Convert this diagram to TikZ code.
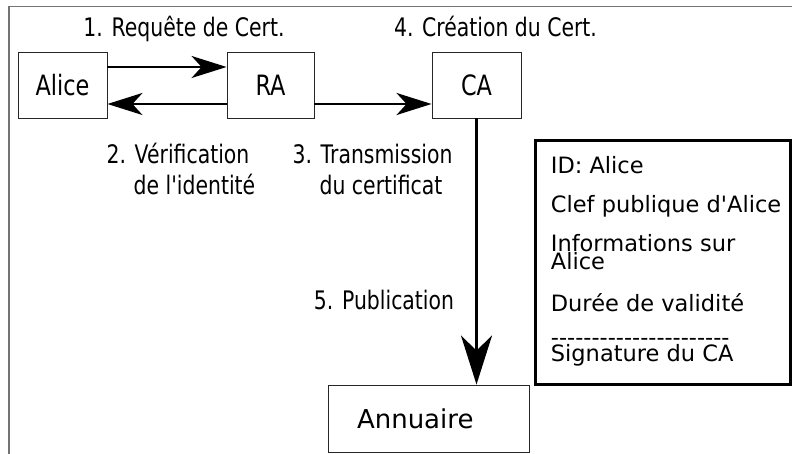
\documentclass[tikz,border=0pt]{standalone}
\usepackage{fontspec}
\usetikzlibrary{arrows.meta}
\newfontfamily\condfont[FakeStretch=0.8]{DejaVu Sans}
\newfontfamily\plainfont{DejaVu Sans}
\begin{document}
\begin{tikzpicture}[x=1bp,y=-1bp,
  entity/.style={draw=black!85, line width=0.9bp, minimum width=89bp, minimum height=66bp,
     inner sep=0pt, font=\condfont\fontsize{28bp}{32bp}\selectfont},
  steplabel/.style={anchor=base, inner sep=0pt, font=\condfont\fontsize{25.5bp}{30bp}\selectfont},
  certline/.style={anchor=base west, inner sep=0pt, font=\plainfont\fontsize{22.5bp}{26bp}\selectfont},
  harrow/.style={line width=2.5bp, -{Stealth[length=35bp, width=22bp, inset=10bp]}},
  varrow/.style={line width=2.7bp, -{Stealth[length=49bp, width=31bp, inset=15bp]}},
  frameline/.style={draw=black!55, line width=1.6bp}
]
\useasboundingbox (0,0) rectangle (792,454);
% outer frame (partially visible)
\draw[frameline] (792,6.7) -- (9,6.7) -- (9,454);

% entities
\node[entity] (alice) at (62.5,85) {Alice};
\node[entity, minimum width=87bp] (ra) at (270.5,85) {RA};
\node[entity] (ca) at (476.5,85) {CA};
\node[entity, minimum width=201bp, minimum height=67bp, text width=143bp, align=left,
      font=\plainfont\fontsize{26bp}{30bp}\selectfont] (annuaire) at (428.5,418.5) {Annuaire};

% certificate box
\node[draw=black, line width=3bp, minimum width=254.8bp, minimum height=243.6bp, inner sep=0pt]
   (cert) at (663.1,262.5) {};

% arrows
\draw[harrow] (alice.east |- 0,67) -- (ra.west |- 0,67);
\draw[harrow] (ra.west |- 0,104) -- (alice.east |- 0,104);
\draw[harrow] (ra.east |- 0,104) -- (ca.west |- 0,104);
\draw[varrow] (ca.south) -- (annuaire.north -| ca.south);

% step labels
\node[steplabel] (l1) at (184,37) {1. Requête de Cert.};
\node[steplabel] (l4) at (495.5,37) {4. Création du Cert.};
\node[steplabel] (l2a) at (178,164) {2. Vérification};
\node[steplabel] (l2b) at (194.5,195) {de l'identité};
\node[steplabel] (l3a) at (372.5,164) {3. Transmission};
\node[steplabel] (l3b) at (381,195) {du certificat};
\node[steplabel] (l5) at (384,310) {5. Publication};

% certificate contents
\node[certline] (c1) at (550.7,173.3) {ID: Alice};
\node[certline] (c2) at (550.7,212.7) {Clef publique d'Alice};
\node[certline] (c3) at (550.7,251.7) {Informations sur};
\node[certline] (c3b) at (550.7,270) {Alice};
\node[certline] (c4) at (550.7,311.7) {Durée de validité};
\node[certline] (c5) at (550.7,345.5) {-{}-{}-{}-{}-{}-{}-{}-{}-{}-{}-{}-{}-{}-{}-{}-{}-{}-{}-{}-{}-{}-};
\node[certline] (c6) at (550.7,362) {Signature du CA};
\end{tikzpicture}
\end{document}
